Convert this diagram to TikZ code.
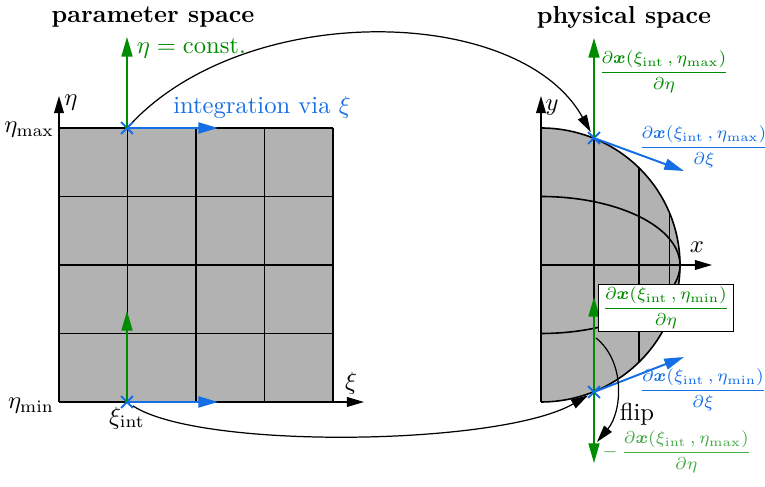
\documentclass[tikz,border=0pt]{standalone}
\usepackage{amsmath,bm}
\usetikzlibrary{arrows.meta,shapes.misc}
\definecolor{myblue}{RGB}{20,110,230}
\definecolor{mygreen}{RGB}{0,140,0}
\definecolor{lightgreen}{RGB}{70,170,70}
\newcommand{\dxfrac}[2]{$\displaystyle\frac{\partial\bm{x}(\xi_{\mathrm{int}}\,,\eta_{\mathrm{#1}})}{\partial#2}$}
\begin{document}
\begin{tikzpicture}[x=0.4065pt,y=-0.4065pt,
  tip/.style={-{Triangle[length=8pt,width=4.5pt]}},
  axistip/.style={-{Triangle[length=7pt,width=4pt]},line width=0.5pt},
  gridline/.style={line width=0.65pt},
  crossmk/.style={cross out,draw=myblue,line width=0.8pt,minimum size=4pt,inner sep=0pt},
  bluearrow/.style={tip,draw=myblue,fill=myblue,line width=0.8pt},
  greenarrow/.style={tip,draw=mygreen,fill=mygreen,line width=0.6pt},
  curvearrow/.style={-{Triangle[length=7pt,width=4pt]},line width=0.5pt},
  fraclab/.style={font=\fontsize{7.3}{9}\selectfont,inner sep=1pt}]
\useasboundingbox (0,0) rectangle (765,487);
% titles
\node[font=\bfseries] (t1) at (153,17) {parameter space};
\node[font=\bfseries] (t2) at (624,17) {physical space};
% ---------- parameter space ----------
\fill[black!30] (59,128) rectangle (333,402);
\foreach \i in {0,...,4}{
  \draw[gridline] ({59+68.5*\i},128) -- ({59+68.5*\i},402);
  \draw[gridline] (59,{128+68.5*\i}) -- (333,{128+68.5*\i});
}
\coordinate (O1) at (59,402);
\coordinate (etatip) at (59,96);
\coordinate (xitip) at (364,402);
\draw[axistip] (O1) -- (etatip);
\draw[axistip] (O1) -- (xitip);
\node (etalab) at (71,103) {$\eta$};
\node (xilab) at (351,383) {$\xi$};
\node[anchor=east,inner sep=1pt] (etamax) at (57,130) {$\eta_{\max}$};
\node[anchor=east,inner sep=1pt] (etamin) at (57,406) {$\eta_{\min}$};
\node (xiint) at (127,418) {$\xi_{\mathrm{int}}$};
\coordinate (g1) at (127,37);
\coordinate (g2) at (127,311);
\coordinate (b1) at (218,128);
\coordinate (b2) at (218,402);
\node[crossmk] (c1) at (127,128) {};
\node[crossmk] (c2) at (127,402) {};
\draw[greenarrow] (c1.center) -- (g1);
\draw[greenarrow] (c2.center) -- (g2);
\draw[bluearrow] (c1.center) -- (b1);
\draw[bluearrow] (c2.center) -- (b2);
\node[anchor=west,text=mygreen,inner sep=1pt] (const) at (134,48) {$\eta = \text{const.}$};
\node[text=myblue] (integ) at (262,107) {integration via $\xi$};
% ---------- physical space ----------
\fill[black!30] plot[domain=0:90,samples=60] ({541+139*sin(\x)},{265-137*cos(\x)})
   -- plot[domain=90:0,samples=60] ({541+139*sin(\x)},{265+137*cos(\x)}) -- cycle;
\draw[gridline] plot[domain=0:90,samples=60] ({541+139*sin(\x)},{265-137*cos(\x)})
   -- plot[domain=90:0,samples=60] ({541+139*sin(\x)},{265+137*cos(\x)});
\foreach \e in {68.5,-68.5}{
  \draw[gridline] plot[domain=0:90,samples=60] ({541+139*sin(\x)},{265-\e*cos(\x)});
}
\foreach \t in {22.5,45,67.5}{
  \draw[gridline] ({541+139*sin(\t)},{265-137*cos(\t)}) -- ({541+139*sin(\t)},{265+137*cos(\t)});
}
\coordinate (O2) at (541,402);
\coordinate (ytip) at (541,96);
\coordinate (xo) at (541,265);
\coordinate (xtip) at (712,265);
\draw[axistip] (O2) -- (ytip);
\draw[axistip] (xo) -- (xtip);
\node (ylab) at (552,108) {$y$};
\node (xlab) at (697,247) {$x$};
\node[crossmk] (p1) at (594,138) {};
\node[crossmk] (p2) at (594,392) {};
\coordinate (pg1) at (594,38);
\coordinate (pg2) at (594,297);
\coordinate (pg3) at (594,463);
\coordinate (pb1) at (684,171);
\coordinate (pb2) at (684,357);
\draw[greenarrow] (p1.center) -- (pg1);
\draw[greenarrow] (p2.center) -- (pg2);
\draw[greenarrow] (p2.center) -- (pg3);
\draw[bluearrow] (p1.center) -- (pb1);
\draw[bluearrow] (p2.center) -- (pb2);
\node[fraclab,text=mygreen] (lab1) at (664,72) {\dxfrac{max}{\eta}};
\node[fraclab,text=myblue] (lab2) at (704,147) {\dxfrac{max}{\xi}};
\node[fraclab,text=mygreen,draw=black,fill=white,inner xsep=1.5pt,inner ysep=1pt,line width=0.5pt]
  (lab3) at (666,308) {\dxfrac{min}{\eta}};
\node[fraclab,text=myblue] (lab4) at (703,390) {\dxfrac{min}{\xi}};
\node[fraclab,text=lightgreen] (lab5) at (677,452)
  {$-\,\displaystyle\frac{\partial\bm{x}(\xi_{\mathrm{int}}\,,\eta_{\mathrm{max}})}{\partial\eta}$};
% flip
\coordinate (f1) at (596,338);
\coordinate (f2) at (597,442);
\draw[curvearrow] (f1) .. controls (626,362) and (622,412) .. (f2);
\node (flip) at (637,414) {flip};
% mapping curves
\draw[curvearrow] (c1) .. controls (250,0) and (520,5) .. (p1);
\draw[curvearrow] (c2) .. controls (200,450) and (500,446) .. (p2);
\end{tikzpicture}
\end{document}
